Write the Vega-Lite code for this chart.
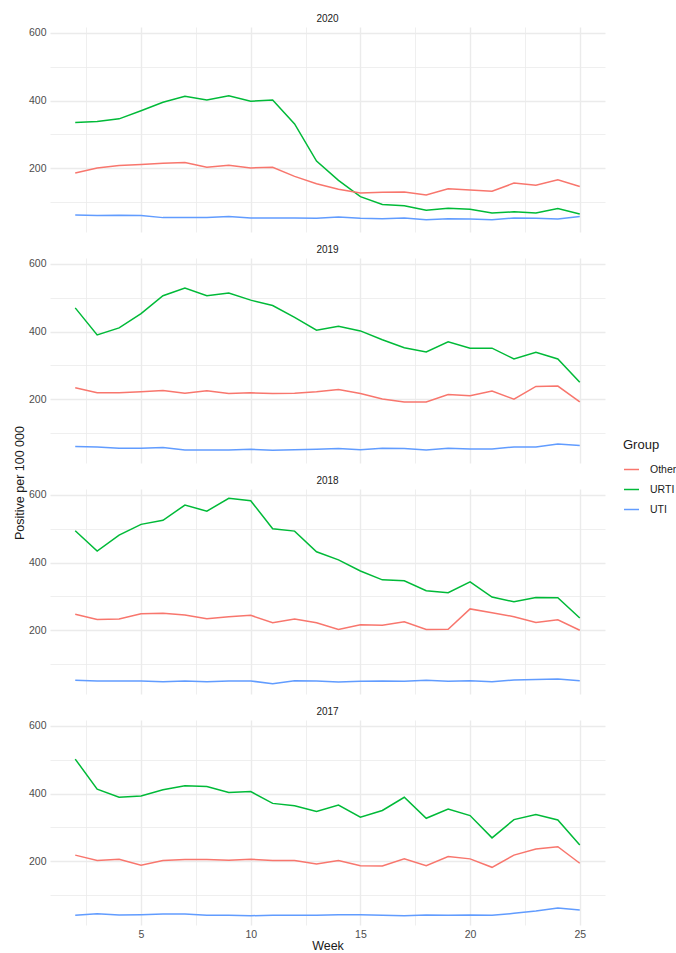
{
"$schema":"https://vega.github.io/schema/vega-lite/v6.json",
"background":"white",
"padding":{"left":13,"top":14,"right":0,"bottom":0},
"title":{"text":"Positive per 100 000","orient":"left","anchor":"middle","fontSize":12.5,"fontWeight":"normal","color":"#1A1A1A","font":"Liberation Sans","offset":2},
"data":{"values":[
{"Year":2020,"Week":2,"Group":"URTI","Positive":335},{"Year":2020,"Week":3,"Group":"URTI","Positive":338},{"Year":2020,"Week":4,"Group":"URTI","Positive":346},{"Year":2020,"Week":5,"Group":"URTI","Positive":370},{"Year":2020,"Week":6,"Group":"URTI","Positive":395},{"Year":2020,"Week":7,"Group":"URTI","Positive":413},{"Year":2020,"Week":8,"Group":"URTI","Positive":402},{"Year":2020,"Week":9,"Group":"URTI","Positive":414},{"Year":2020,"Week":10,"Group":"URTI","Positive":398},{"Year":2020,"Week":11,"Group":"URTI","Positive":402},{"Year":2020,"Week":12,"Group":"URTI","Positive":331},{"Year":2020,"Week":13,"Group":"URTI","Positive":221},{"Year":2020,"Week":14,"Group":"URTI","Positive":164},{"Year":2020,"Week":15,"Group":"URTI","Positive":116},{"Year":2020,"Week":16,"Group":"URTI","Positive":93},{"Year":2020,"Week":17,"Group":"URTI","Positive":89},{"Year":2020,"Week":18,"Group":"URTI","Positive":76},{"Year":2020,"Week":19,"Group":"URTI","Positive":82},{"Year":2020,"Week":20,"Group":"URTI","Positive":79},{"Year":2020,"Week":21,"Group":"URTI","Positive":68},{"Year":2020,"Week":22,"Group":"URTI","Positive":71},{"Year":2020,"Week":23,"Group":"URTI","Positive":68},{"Year":2020,"Week":24,"Group":"URTI","Positive":81},{"Year":2020,"Week":25,"Group":"URTI","Positive":65},
{"Year":2020,"Week":2,"Group":"Other","Positive":186},{"Year":2020,"Week":3,"Group":"Other","Positive":201},{"Year":2020,"Week":4,"Group":"Other","Positive":208},{"Year":2020,"Week":5,"Group":"Other","Positive":211},{"Year":2020,"Week":6,"Group":"Other","Positive":215},{"Year":2020,"Week":7,"Group":"Other","Positive":217},{"Year":2020,"Week":8,"Group":"Other","Positive":203},{"Year":2020,"Week":9,"Group":"Other","Positive":209},{"Year":2020,"Week":10,"Group":"Other","Positive":201},{"Year":2020,"Week":11,"Group":"Other","Positive":203},{"Year":2020,"Week":12,"Group":"Other","Positive":176},{"Year":2020,"Week":13,"Group":"Other","Positive":154},{"Year":2020,"Week":14,"Group":"Other","Positive":138},{"Year":2020,"Week":15,"Group":"Other","Positive":127},{"Year":2020,"Week":16,"Group":"Other","Positive":129},{"Year":2020,"Week":17,"Group":"Other","Positive":130},{"Year":2020,"Week":18,"Group":"Other","Positive":121},{"Year":2020,"Week":19,"Group":"Other","Positive":139},{"Year":2020,"Week":20,"Group":"Other","Positive":136},{"Year":2020,"Week":21,"Group":"Other","Positive":132},{"Year":2020,"Week":22,"Group":"Other","Positive":156},{"Year":2020,"Week":23,"Group":"Other","Positive":150},{"Year":2020,"Week":24,"Group":"Other","Positive":166},{"Year":2020,"Week":25,"Group":"Other","Positive":146},
{"Year":2020,"Week":2,"Group":"UTI","Positive":62},{"Year":2020,"Week":3,"Group":"UTI","Positive":60},{"Year":2020,"Week":4,"Group":"UTI","Positive":61},{"Year":2020,"Week":5,"Group":"UTI","Positive":60},{"Year":2020,"Week":6,"Group":"UTI","Positive":54},{"Year":2020,"Week":7,"Group":"UTI","Positive":54},{"Year":2020,"Week":8,"Group":"UTI","Positive":54},{"Year":2020,"Week":9,"Group":"UTI","Positive":57},{"Year":2020,"Week":10,"Group":"UTI","Positive":53},{"Year":2020,"Week":11,"Group":"UTI","Positive":53},{"Year":2020,"Week":12,"Group":"UTI","Positive":53},{"Year":2020,"Week":13,"Group":"UTI","Positive":52},{"Year":2020,"Week":14,"Group":"UTI","Positive":56},{"Year":2020,"Week":15,"Group":"UTI","Positive":52},{"Year":2020,"Week":16,"Group":"UTI","Positive":51},{"Year":2020,"Week":17,"Group":"UTI","Positive":53},{"Year":2020,"Week":18,"Group":"UTI","Positive":48},{"Year":2020,"Week":19,"Group":"UTI","Positive":51},{"Year":2020,"Week":20,"Group":"UTI","Positive":50},{"Year":2020,"Week":21,"Group":"UTI","Positive":48},{"Year":2020,"Week":22,"Group":"UTI","Positive":53},{"Year":2020,"Week":23,"Group":"UTI","Positive":52},{"Year":2020,"Week":24,"Group":"UTI","Positive":50},{"Year":2020,"Week":25,"Group":"UTI","Positive":57},
{"Year":2019,"Week":2,"Group":"URTI","Positive":470},{"Year":2019,"Week":3,"Group":"URTI","Positive":390},{"Year":2019,"Week":4,"Group":"URTI","Positive":411},{"Year":2019,"Week":5,"Group":"URTI","Positive":453},{"Year":2019,"Week":6,"Group":"URTI","Positive":506},{"Year":2019,"Week":7,"Group":"URTI","Positive":529},{"Year":2019,"Week":8,"Group":"URTI","Positive":506},{"Year":2019,"Week":9,"Group":"URTI","Positive":514},{"Year":2019,"Week":10,"Group":"URTI","Positive":493},{"Year":2019,"Week":11,"Group":"URTI","Positive":477},{"Year":2019,"Week":12,"Group":"URTI","Positive":442},{"Year":2019,"Week":13,"Group":"URTI","Positive":404},{"Year":2019,"Week":14,"Group":"URTI","Positive":416},{"Year":2019,"Week":15,"Group":"URTI","Positive":402},{"Year":2019,"Week":16,"Group":"URTI","Positive":376},{"Year":2019,"Week":17,"Group":"URTI","Positive":352},{"Year":2019,"Week":18,"Group":"URTI","Positive":340},{"Year":2019,"Week":19,"Group":"URTI","Positive":370},{"Year":2019,"Week":20,"Group":"URTI","Positive":351},{"Year":2019,"Week":21,"Group":"URTI","Positive":351},{"Year":2019,"Week":22,"Group":"URTI","Positive":319},{"Year":2019,"Week":23,"Group":"URTI","Positive":339},{"Year":2019,"Week":24,"Group":"URTI","Positive":319},{"Year":2019,"Week":25,"Group":"URTI","Positive":250},
{"Year":2019,"Week":2,"Group":"Other","Positive":234},{"Year":2019,"Week":3,"Group":"Other","Positive":219},{"Year":2019,"Week":4,"Group":"Other","Positive":219},{"Year":2019,"Week":5,"Group":"Other","Positive":222},{"Year":2019,"Week":6,"Group":"Other","Positive":226},{"Year":2019,"Week":7,"Group":"Other","Positive":218},{"Year":2019,"Week":8,"Group":"Other","Positive":225},{"Year":2019,"Week":9,"Group":"Other","Positive":217},{"Year":2019,"Week":10,"Group":"Other","Positive":219},{"Year":2019,"Week":11,"Group":"Other","Positive":217},{"Year":2019,"Week":12,"Group":"Other","Positive":218},{"Year":2019,"Week":13,"Group":"Other","Positive":222},{"Year":2019,"Week":14,"Group":"Other","Positive":229},{"Year":2019,"Week":15,"Group":"Other","Positive":217},{"Year":2019,"Week":16,"Group":"Other","Positive":201},{"Year":2019,"Week":17,"Group":"Other","Positive":192},{"Year":2019,"Week":18,"Group":"Other","Positive":192},{"Year":2019,"Week":19,"Group":"Other","Positive":214},{"Year":2019,"Week":20,"Group":"Other","Positive":210},{"Year":2019,"Week":21,"Group":"Other","Positive":224},{"Year":2019,"Week":22,"Group":"Other","Positive":200},{"Year":2019,"Week":23,"Group":"Other","Positive":238},{"Year":2019,"Week":24,"Group":"Other","Positive":239},{"Year":2019,"Week":25,"Group":"Other","Positive":192},
{"Year":2019,"Week":2,"Group":"UTI","Positive":60},{"Year":2019,"Week":3,"Group":"UTI","Positive":59},{"Year":2019,"Week":4,"Group":"UTI","Positive":55},{"Year":2019,"Week":5,"Group":"UTI","Positive":55},{"Year":2019,"Week":6,"Group":"UTI","Positive":57},{"Year":2019,"Week":7,"Group":"UTI","Positive":50},{"Year":2019,"Week":8,"Group":"UTI","Positive":50},{"Year":2019,"Week":9,"Group":"UTI","Positive":50},{"Year":2019,"Week":10,"Group":"UTI","Positive":52},{"Year":2019,"Week":11,"Group":"UTI","Positive":49},{"Year":2019,"Week":12,"Group":"UTI","Positive":51},{"Year":2019,"Week":13,"Group":"UTI","Positive":52},{"Year":2019,"Week":14,"Group":"UTI","Positive":54},{"Year":2019,"Week":15,"Group":"UTI","Positive":51},{"Year":2019,"Week":16,"Group":"UTI","Positive":55},{"Year":2019,"Week":17,"Group":"UTI","Positive":54},{"Year":2019,"Week":18,"Group":"UTI","Positive":50},{"Year":2019,"Week":19,"Group":"UTI","Positive":55},{"Year":2019,"Week":20,"Group":"UTI","Positive":53},{"Year":2019,"Week":21,"Group":"UTI","Positive":53},{"Year":2019,"Week":22,"Group":"UTI","Positive":59},{"Year":2019,"Week":23,"Group":"UTI","Positive":59},{"Year":2019,"Week":24,"Group":"UTI","Positive":68},{"Year":2019,"Week":25,"Group":"UTI","Positive":63},
{"Year":2018,"Week":2,"Group":"URTI","Positive":494},{"Year":2018,"Week":3,"Group":"URTI","Positive":434},{"Year":2018,"Week":4,"Group":"URTI","Positive":481},{"Year":2018,"Week":5,"Group":"URTI","Positive":513},{"Year":2018,"Week":6,"Group":"URTI","Positive":525},{"Year":2018,"Week":7,"Group":"URTI","Positive":570},{"Year":2018,"Week":8,"Group":"URTI","Positive":552},{"Year":2018,"Week":9,"Group":"URTI","Positive":590},{"Year":2018,"Week":10,"Group":"URTI","Positive":583},{"Year":2018,"Week":11,"Group":"URTI","Positive":500},{"Year":2018,"Week":12,"Group":"URTI","Positive":493},{"Year":2018,"Week":13,"Group":"URTI","Positive":432},{"Year":2018,"Week":14,"Group":"URTI","Positive":408},{"Year":2018,"Week":15,"Group":"URTI","Positive":375},{"Year":2018,"Week":16,"Group":"URTI","Positive":349},{"Year":2018,"Week":17,"Group":"URTI","Positive":346},{"Year":2018,"Week":18,"Group":"URTI","Positive":317},{"Year":2018,"Week":19,"Group":"URTI","Positive":311},{"Year":2018,"Week":20,"Group":"URTI","Positive":343},{"Year":2018,"Week":21,"Group":"URTI","Positive":298},{"Year":2018,"Week":22,"Group":"URTI","Positive":284},{"Year":2018,"Week":23,"Group":"URTI","Positive":297},{"Year":2018,"Week":24,"Group":"URTI","Positive":296},{"Year":2018,"Week":25,"Group":"URTI","Positive":236},
{"Year":2018,"Week":2,"Group":"Other","Positive":247},{"Year":2018,"Week":3,"Group":"Other","Positive":232},{"Year":2018,"Week":4,"Group":"Other","Positive":233},{"Year":2018,"Week":5,"Group":"Other","Positive":249},{"Year":2018,"Week":6,"Group":"Other","Positive":250},{"Year":2018,"Week":7,"Group":"Other","Positive":245},{"Year":2018,"Week":8,"Group":"Other","Positive":234},{"Year":2018,"Week":9,"Group":"Other","Positive":240},{"Year":2018,"Week":10,"Group":"Other","Positive":244},{"Year":2018,"Week":11,"Group":"Other","Positive":222},{"Year":2018,"Week":12,"Group":"Other","Positive":233},{"Year":2018,"Week":13,"Group":"Other","Positive":222},{"Year":2018,"Week":14,"Group":"Other","Positive":202},{"Year":2018,"Week":15,"Group":"Other","Positive":216},{"Year":2018,"Week":16,"Group":"Other","Positive":215},{"Year":2018,"Week":17,"Group":"Other","Positive":225},{"Year":2018,"Week":18,"Group":"Other","Positive":202},{"Year":2018,"Week":19,"Group":"Other","Positive":203},{"Year":2018,"Week":20,"Group":"Other","Positive":263},{"Year":2018,"Week":21,"Group":"Other","Positive":252},{"Year":2018,"Week":22,"Group":"Other","Positive":240},{"Year":2018,"Week":23,"Group":"Other","Positive":223},{"Year":2018,"Week":24,"Group":"Other","Positive":231},{"Year":2018,"Week":25,"Group":"Other","Positive":200},
{"Year":2018,"Week":2,"Group":"UTI","Positive":52},{"Year":2018,"Week":3,"Group":"UTI","Positive":50},{"Year":2018,"Week":4,"Group":"UTI","Positive":50},{"Year":2018,"Week":5,"Group":"UTI","Positive":50},{"Year":2018,"Week":6,"Group":"UTI","Positive":48},{"Year":2018,"Week":7,"Group":"UTI","Positive":50},{"Year":2018,"Week":8,"Group":"UTI","Positive":48},{"Year":2018,"Week":9,"Group":"UTI","Positive":50},{"Year":2018,"Week":10,"Group":"UTI","Positive":50},{"Year":2018,"Week":11,"Group":"UTI","Positive":42},{"Year":2018,"Week":12,"Group":"UTI","Positive":51},{"Year":2018,"Week":13,"Group":"UTI","Positive":50},{"Year":2018,"Week":14,"Group":"UTI","Positive":47},{"Year":2018,"Week":15,"Group":"UTI","Positive":49},{"Year":2018,"Week":16,"Group":"UTI","Positive":50},{"Year":2018,"Week":17,"Group":"UTI","Positive":49},{"Year":2018,"Week":18,"Group":"UTI","Positive":52},{"Year":2018,"Week":19,"Group":"UTI","Positive":49},{"Year":2018,"Week":20,"Group":"UTI","Positive":51},{"Year":2018,"Week":21,"Group":"UTI","Positive":48},{"Year":2018,"Week":22,"Group":"UTI","Positive":53},{"Year":2018,"Week":23,"Group":"UTI","Positive":54},{"Year":2018,"Week":24,"Group":"UTI","Positive":56},{"Year":2018,"Week":25,"Group":"UTI","Positive":51},
{"Year":2017,"Week":2,"Group":"URTI","Positive":502},{"Year":2017,"Week":3,"Group":"URTI","Positive":413},{"Year":2017,"Week":4,"Group":"URTI","Positive":389},{"Year":2017,"Week":5,"Group":"URTI","Positive":393},{"Year":2017,"Week":6,"Group":"URTI","Positive":411},{"Year":2017,"Week":7,"Group":"URTI","Positive":423},{"Year":2017,"Week":8,"Group":"URTI","Positive":421},{"Year":2017,"Week":9,"Group":"URTI","Positive":403},{"Year":2017,"Week":10,"Group":"URTI","Positive":406},{"Year":2017,"Week":11,"Group":"URTI","Positive":371},{"Year":2017,"Week":12,"Group":"URTI","Positive":364},{"Year":2017,"Week":13,"Group":"URTI","Positive":347},{"Year":2017,"Week":14,"Group":"URTI","Positive":366},{"Year":2017,"Week":15,"Group":"URTI","Positive":330},{"Year":2017,"Week":16,"Group":"URTI","Positive":350},{"Year":2017,"Week":17,"Group":"URTI","Positive":389},{"Year":2017,"Week":18,"Group":"URTI","Positive":327},{"Year":2017,"Week":19,"Group":"URTI","Positive":354},{"Year":2017,"Week":20,"Group":"URTI","Positive":335},{"Year":2017,"Week":21,"Group":"URTI","Positive":269},{"Year":2017,"Week":22,"Group":"URTI","Positive":323},{"Year":2017,"Week":23,"Group":"URTI","Positive":338},{"Year":2017,"Week":24,"Group":"URTI","Positive":322},{"Year":2017,"Week":25,"Group":"URTI","Positive":248},
{"Year":2017,"Week":2,"Group":"Other","Positive":218},{"Year":2017,"Week":3,"Group":"Other","Positive":202},{"Year":2017,"Week":4,"Group":"Other","Positive":206},{"Year":2017,"Week":5,"Group":"Other","Positive":188},{"Year":2017,"Week":6,"Group":"Other","Positive":202},{"Year":2017,"Week":7,"Group":"Other","Positive":205},{"Year":2017,"Week":8,"Group":"Other","Positive":205},{"Year":2017,"Week":9,"Group":"Other","Positive":203},{"Year":2017,"Week":10,"Group":"Other","Positive":206},{"Year":2017,"Week":11,"Group":"Other","Positive":202},{"Year":2017,"Week":12,"Group":"Other","Positive":202},{"Year":2017,"Week":13,"Group":"Other","Positive":192},{"Year":2017,"Week":14,"Group":"Other","Positive":202},{"Year":2017,"Week":15,"Group":"Other","Positive":187},{"Year":2017,"Week":16,"Group":"Other","Positive":186},{"Year":2017,"Week":17,"Group":"Other","Positive":207},{"Year":2017,"Week":18,"Group":"Other","Positive":187},{"Year":2017,"Week":19,"Group":"Other","Positive":214},{"Year":2017,"Week":20,"Group":"Other","Positive":207},{"Year":2017,"Week":21,"Group":"Other","Positive":182},{"Year":2017,"Week":22,"Group":"Other","Positive":218},{"Year":2017,"Week":23,"Group":"Other","Positive":236},{"Year":2017,"Week":24,"Group":"Other","Positive":243},{"Year":2017,"Week":25,"Group":"Other","Positive":194},
{"Year":2017,"Week":2,"Group":"UTI","Positive":40},{"Year":2017,"Week":3,"Group":"UTI","Positive":45},{"Year":2017,"Week":4,"Group":"UTI","Positive":41},{"Year":2017,"Week":5,"Group":"UTI","Positive":42},{"Year":2017,"Week":6,"Group":"UTI","Positive":44},{"Year":2017,"Week":7,"Group":"UTI","Positive":44},{"Year":2017,"Week":8,"Group":"UTI","Positive":40},{"Year":2017,"Week":9,"Group":"UTI","Positive":40},{"Year":2017,"Week":10,"Group":"UTI","Positive":39},{"Year":2017,"Week":11,"Group":"UTI","Positive":40},{"Year":2017,"Week":12,"Group":"UTI","Positive":40},{"Year":2017,"Week":13,"Group":"UTI","Positive":40},{"Year":2017,"Week":14,"Group":"UTI","Positive":42},{"Year":2017,"Week":15,"Group":"UTI","Positive":42},{"Year":2017,"Week":16,"Group":"UTI","Positive":40},{"Year":2017,"Week":17,"Group":"UTI","Positive":39},{"Year":2017,"Week":18,"Group":"UTI","Positive":41},{"Year":2017,"Week":19,"Group":"UTI","Positive":40},{"Year":2017,"Week":20,"Group":"UTI","Positive":41},{"Year":2017,"Week":21,"Group":"UTI","Positive":40},{"Year":2017,"Week":22,"Group":"UTI","Positive":46},{"Year":2017,"Week":23,"Group":"UTI","Positive":53},{"Year":2017,"Week":24,"Group":"UTI","Positive":62},{"Year":2017,"Week":25,"Group":"UTI","Positive":56}
]},
"facet":{"field":"Year","type":"ordinal","sort":"descending","header":{"title":null,"labelFontSize":10,"labelColor":"#1A1A1A","labelFont":"Liberation Sans","labelPadding":3}},
"columns":1,
"spacing":13,
"spec":{
"width":555,
"height":205,
"mark":{"type":"line","strokeWidth":1.5,"clip":true},
"encoding":{
"x":{"field":"Week","type":"quantitative","scale":{"domain":[0.85,26.15],"nice":false,"zero":false},
"axis":{"title":"Week","titleFontSize":12.5,"titlePadding":0,"values":[2.5,5,7.5,10,12.5,15,17.5,20,22.5,25],"labelExpr":"datum.value % 5 === 0 ? datum.label : ''","gridWidth":{"condition":{"test":"datum.value % 5 === 0","value":1.4},"value":0.8}}},
"y":{"field":"Positive","type":"quantitative","scale":{"domain":[11.5,617.5],"nice":false,"zero":false},
"axis":{"title":null,"values":[100,200,300,400,500,600],"labelExpr":"datum.value % 200 === 0 ? datum.label : ''","gridWidth":{"condition":{"test":"datum.value % 200 === 0","value":1.4},"value":0.8}}},
"color":{"field":"Group","type":"nominal","scale":{"domain":["Other","URTI","UTI"],"range":["#F8766D","#00BA38","#619CFF"]},
"legend":{"title":"Group","orient":"none","legendX":573,"legendY":412,"symbolType":"stroke","symbolStrokeWidth":1.5,"symbolSize":225,"labelOffset":10,"labelFontSize":10.5,"titleFontSize":13,"titleFontWeight":"normal","titlePadding":9,"rowPadding":6}}
}
},
"config":{
"font":"Liberation Sans",
"view":{"stroke":null},
"axis":{"domain":false,"ticks":false,"gridColor":"#EBEBEB","labelColor":"#4D4D4D","labelFontSize":10.5,"titleFontSize":13,"titleFontWeight":"normal","titleColor":"#1A1A1A","labelPadding":4},
"legend":{"labelColor":"#1A1A1A","titleColor":"#1A1A1A"}
}
}
